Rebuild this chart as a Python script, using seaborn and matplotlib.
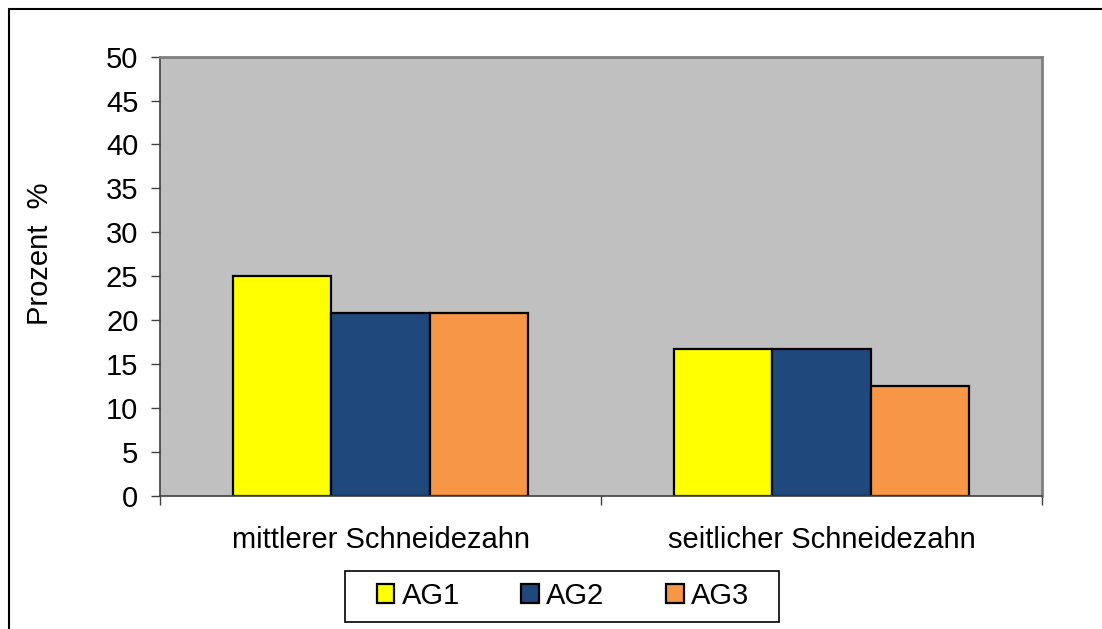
import pandas as pd
import matplotlib.pyplot as plt
import seaborn as sns
from matplotlib.patches import Rectangle

categories = ["mittlerer Schneidezahn", "seitlicher Schneidezahn"]
groups = ["AG1", "AG2", "AG3"]
ag1 = [25.0, 16.67]
ag2 = [20.83, 16.67]
ag3 = [20.83, 12.5]
colors = ["#FFFF00", "#1F497D", "#F79646"]

df = pd.DataFrame({
    "Zahn": categories * 3,
    "Gruppe": [g for g in groups for _ in categories],
    "Prozent": ag1 + ag2 + ag3,
})

sns.set_theme(style="white")
plt.rcParams["font.family"] = ["Liberation Sans", "DejaVu Sans"]
plt.rcParams["text.color"] = "black"
plt.rcParams["xtick.labelcolor"] = "black"
plt.rcParams["ytick.labelcolor"] = "black"

W, H = 1102, 629
fig = plt.figure(figsize=(11.02, 6.29), dpi=100)
ax = fig.add_axes([160 / W, 1 - 495.7 / H, 882 / W, 439 / H])
ax.set_facecolor("#C0C0C0")

sns.barplot(
    data=df, x="Zahn", y="Prozent", hue="Gruppe",
    palette=colors, width=0.667, edgecolor="black", linewidth=1.6,
    saturation=1, ax=ax
)

ax.set_ylim(0, 50)
ax.set_xlim(-0.5, 1.5)
ax.set_yticks(range(0, 51, 5))
ax.tick_params(axis="y", labelsize=21, length=6.5, width=1, color="#404040",
               direction="out", pad=9, left=True, labelcolor="black")
ax.tick_params(axis="x", which="major", labelsize=21, length=0, pad=22,
               labelcolor="black")
ax.set_xticks([-0.5, 0.5, 1.5], minor=True)
ax.tick_params(axis="x", which="minor", length=6.5, width=1, color="#404040",
               direction="out", bottom=True)
ax.set_xlabel("")
ax.set_ylabel("")

for side in ["top", "right"]:
    ax.spines[side].set_color("#808080")
    ax.spines[side].set_linewidth(2)
for side in ["left", "bottom"]:
    ax.spines[side].set_color("#404040")
    ax.spines[side].set_linewidth(1.2)

fig.text(40 / W, 1 - 254 / H, "Prozent  %", rotation=90,
         ha="center", va="center", fontsize=21, color="black")

# legend: entries without frame, box drawn separately
ax.legend_.remove()
handles, labels = ax.get_legend_handles_labels()
leg = fig.legend(
    handles, labels, loc="center", bbox_to_anchor=(563 / W, 1 - 596 / H),
    ncol=3, fontsize=21, frameon=False,
    handlelength=0.6, handleheight=0.6, handletextpad=0.25,
    columnspacing=2.12, borderpad=0.3
)
for t in leg.get_texts():
    t.set_color("black")
fig.patches.append(Rectangle((345 / W, 1 - 622 / H), 434 / W, 51 / H,
                             transform=fig.transFigure, fill=False,
                             edgecolor="black", linewidth=1.2))

# outer chart frame (cut off at right and bottom in the original)
fig.patches.append(Rectangle((9 / W, -0.1), 1.2, 1.1 - 8.5 / H,
                             transform=fig.transFigure, fill=False,
                             edgecolor="black", linewidth=1.5))

fig.savefig("out.png", dpi=100)
